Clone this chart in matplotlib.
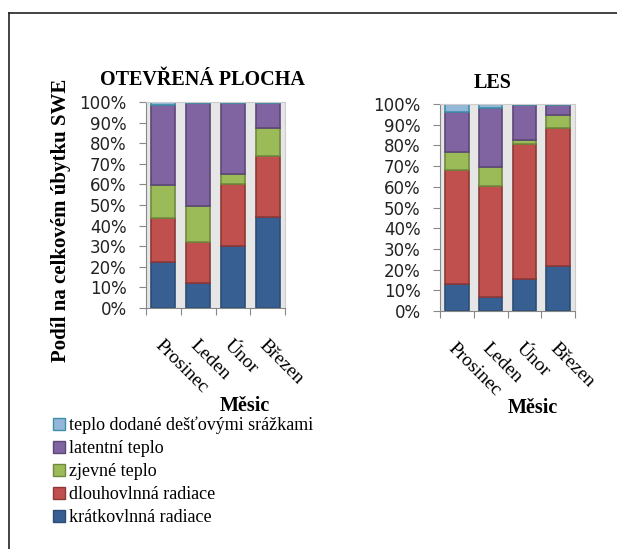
import numpy as np
import matplotlib.pyplot as plt
from matplotlib.patches import Patch
from matplotlib.lines import Line2D

##### Data #####
months = ['Prosinec', 'Leden', 'Únor', 'Březen']
components = ['krátkovlnná radiace', 'dlouhovlnná radiace', 'zjevné teplo',
              'latentní teplo', 'teplo dodané dešťovými srážkami']

# share of total SWE loss [%], open area
open_short = [22.5, 12.0, 30.3, 44.4]
open_long = [21.1, 20.2, 30.0, 29.2]
open_sens = [16.2, 17.5, 4.8, 13.7]
open_lat = [38.6, 49.8, 34.4, 12.2]
open_rain = [1.6, 0.5, 0.5, 0.5]

# share of total SWE loss [%], forest
forest_short = [12.9, 6.6, 15.5, 21.9]
forest_long = [55.2, 53.8, 65.0, 66.7]
forest_sens = [8.7, 9.3, 2.1, 6.2]
forest_lat = [19.3, 28.2, 16.8, 4.6]
forest_rain = [3.9, 2.1, 0.6, 0.6]

fills = ['#375f92', '#c0504d', '#9bbb59', '#8064a2', '#93b7d8']
edges = ['#2c4d75', '#8c3836', '#71893f', '#5c4776', '#3f8fa8']

W, H = 617, 549
fig = plt.figure(figsize=(W / 100, H / 100), dpi=100)

# outer frame (only top and left edge visible)
fig.add_artist(Line2D([9 / W, 9 / W], [0, 1 - 13 / H], color='#222222', lw=1.2))
fig.add_artist(Line2D([9 / W, 1], [1 - 13 / H, 1 - 13 / H], color='#222222', lw=1.2))


def px_axes(x0, y0, x1, y1):
    return fig.add_axes([x0 / W, 1 - y1 / H, (x1 - x0) / W, (y1 - y0) / H])


def stacked(ax, series, title, title_x, title_y, xlab_x, xlab_y):
    x = np.arange(len(months))
    bottom = np.zeros(len(months))
    for vals, fc, ec in zip(series, fills, edges):
        ax.bar(x, vals, 0.69, bottom=bottom, color=fc, edgecolor=ec, linewidth=1.2)
        bottom += np.array(vals)
    ax.set_facecolor('#e6e6e6')
    ax.set_xlim(-0.5, 3.5)
    ax.set_ylim(0, 100)
    ax.set_yticks(np.arange(0, 101, 10))
    ax.set_yticklabels([f'{v}%' for v in range(0, 101, 10)], family='DejaVu Sans',
                       fontsize=12, color='#222222')
    ax.set_xticks(np.arange(-0.5, 4, 1))
    ax.set_xticklabels([])
    ax.set_xticks(x, minor=True)
    ax.set_xticklabels(months, minor=True, rotation=-45, ha='left', va='top',
                       rotation_mode='anchor', family='Liberation Serif', fontsize=14)
    ax.tick_params(axis='x', which='minor', length=0, pad=21)
    ax.tick_params(axis='x', which='major', length=5, color='#888888')
    ax.tick_params(axis='y', length=5, color='#888888', pad=9)
    for s in ['top', 'right']:
        ax.spines[s].set_color('#cccccc')
    for s in ['left', 'bottom']:
        ax.spines[s].set_color('#888888')
    fig.text(title_x / W, 1 - title_y / H, title, ha='center', va='center',
             family='Liberation Serif', fontweight='bold', fontsize=14.5)
    fig.text(xlab_x / W, 1 - xlab_y / H, 'Měsic', ha='center', va='center',
             family='Liberation Serif', fontweight='bold', fontsize=14.5)


ax1 = px_axes(146, 102, 285, 308)
stacked(ax1, [open_short, open_long, open_sens, open_lat, open_rain],
        'OTEVŘENÁ PLOCHA', 202, 80, 245, 406)
fig.text(61 / W, 1 - 220 / H, 'Podíl na celkovém úbytku SWE', rotation=90,
         ha='center', va='center', family='Liberation Serif', fontweight='bold',
         fontsize=15)

ax2 = px_axes(440, 104, 575, 311)
stacked(ax2, [forest_short, forest_long, forest_sens, forest_lat, forest_rain],
        'LES', 493, 83, 533, 408)

handles = [Patch(facecolor=fc, edgecolor=ec, label=lab)
           for fc, ec, lab in zip(fills, edges, components)][::-1]
fig.legend(handles=handles, loc='upper left', bbox_to_anchor=(53 / W, 1 - 417 / H),
           frameon=False, prop={'family': 'Liberation Serif', 'size': 13},
           handlelength=0.65, handleheight=0.65, handletextpad=0.25, labelspacing=0.33,
           borderaxespad=0, borderpad=0)

fig.savefig('out.png', dpi=100)
